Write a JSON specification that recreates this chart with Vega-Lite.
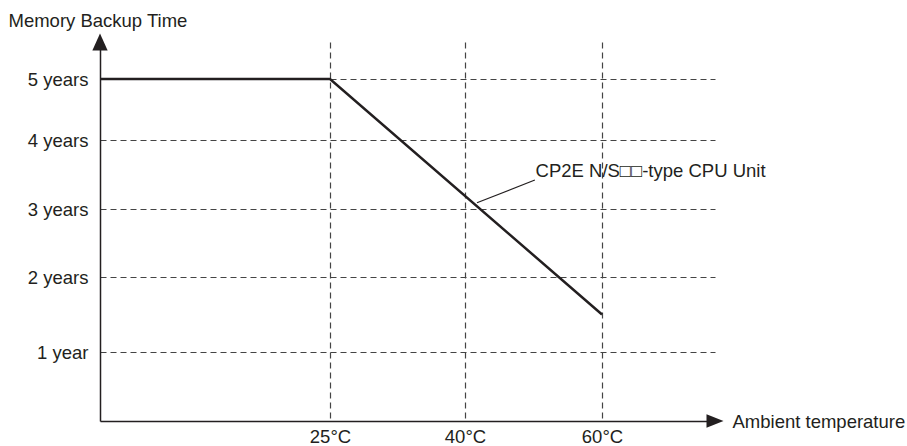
{
  "$schema": "https://vega.github.io/schema/vega-lite/v6.json",
  "width": 615,
  "height": 379,
  "autosize": {"type": "none"},
  "padding": {"left": 100, "top": 42, "right": 192, "bottom": 25},
  "background": "white",
  "config": {
    "view": {"stroke": null},
    "font": "Liberation Sans",
    "text": {"font": "Liberation Sans"}
  },
  "datasets": {
    "curve": [
      {"temp": 0, "years": 5},
      {"temp": 25, "years": 5},
      {"temp": 60, "years": 1.5}
    ],
    "leader": [
      {"temp": 41.75, "years": 3.09},
      {"temp": 50.2, "years": 3.42}
    ],
    "label": [
      {"temp": 50.3, "years": 3.55, "text": "CP2E N/S□□-type CPU Unit"}
    ],
    "xarrow": [{"temp": 75, "years": 0}],
    "yarrow": [{"temp": 0, "years": 6}]
  },
  "layer": [
    {
      "data": {"name": "curve"},
      "mark": {"type": "line", "color": "#231f20", "strokeWidth": 2.5},
      "encoding": {
        "x": {
          "field": "temp",
          "type": "quantitative",
          "scale": {"domain": [0, 25, 40, 60, 75], "range": [0, 230, 365, 502, 615], "nice": false, "zero": false},
          "axis": {
            "values": [25, 40, 60],
            "labelExpr": "datum.value + '°C'",
            "ticks": false,
            "grid": true,
            "gridDash": [6, 4],
            "gridColor": "#444444",
            "gridWidth": 1.2,
            "domainColor": "#231f20",
            "domainWidth": 1.5,
            "labelFont": "Liberation Sans",
            "labelFontSize": 18.5,
            "labelColor": "#231f20",
            "labelPadding": 6,
            "title": "Ambient temperature",
            "titleFont": "Liberation Sans",
            "titleFontSize": 18.5,
            "titleFontWeight": "normal",
            "titleColor": "#231f20",
            "titleAlign": "left",
            "titleBaseline": "middle",
            "titleX": 632,
            "titleY": 0
          }
        },
        "y": {
          "field": "years",
          "type": "quantitative",
          "scale": {"domain": [0, 1, 2, 3, 4, 5, 6], "range": [379, 310, 235, 167, 98, 37, 0], "nice": false, "zero": false},
          "axis": {
            "values": [1, 2, 3, 4, 5],
            "labelExpr": "datum.value == 1 ? '1 year' : datum.value + ' years'",
            "ticks": false,
            "grid": true,
            "gridDash": [6, 4],
            "gridColor": "#444444",
            "gridWidth": 1.2,
            "domainColor": "#231f20",
            "domainWidth": 1.5,
            "labelFont": "Liberation Sans",
            "labelFontSize": 18.5,
            "labelColor": "#231f20",
            "labelPadding": 12,
            "title": "Memory Backup Time",
            "titleFont": "Liberation Sans",
            "titleFontSize": 18.5,
            "titleFontWeight": "normal",
            "titleColor": "#231f20",
            "titleAngle": 0,
            "titleAlign": "left",
            "titleBaseline": "middle",
            "titleX": -92,
            "titleY": -22
          }
        }
      }
    },
    {
      "data": {"name": "leader"},
      "mark": {"type": "line", "color": "#231f20", "strokeWidth": 1.2},
      "encoding": {
        "x": {"field": "temp", "type": "quantitative"},
        "y": {"field": "years", "type": "quantitative"}
      }
    },
    {
      "data": {"name": "label"},
      "mark": {"type": "text", "align": "left", "baseline": "middle", "fontSize": 18.5, "font": "Liberation Sans", "color": "#231f20"},
      "encoding": {
        "x": {"field": "temp", "type": "quantitative"},
        "y": {"field": "years", "type": "quantitative"},
        "text": {"field": "text"}
      }
    },
    {
      "data": {"name": "xarrow"},
      "mark": {"type": "point", "shape": "M-1,-0.8L1,0L-1,0.8Z", "size": 289, "filled": true, "color": "#231f20", "opacity": 1},
      "encoding": {
        "x": {"field": "temp", "type": "quantitative"},
        "y": {"field": "years", "type": "quantitative"}
      }
    },
    {
      "data": {"name": "yarrow"},
      "mark": {"type": "point", "shape": "M0,-1L0.9,1L-0.9,1Z", "size": 289, "filled": true, "color": "#231f20", "opacity": 1},
      "encoding": {
        "x": {"field": "temp", "type": "quantitative"},
        "y": {"field": "years", "type": "quantitative"}
      }
    }
  ]
}
